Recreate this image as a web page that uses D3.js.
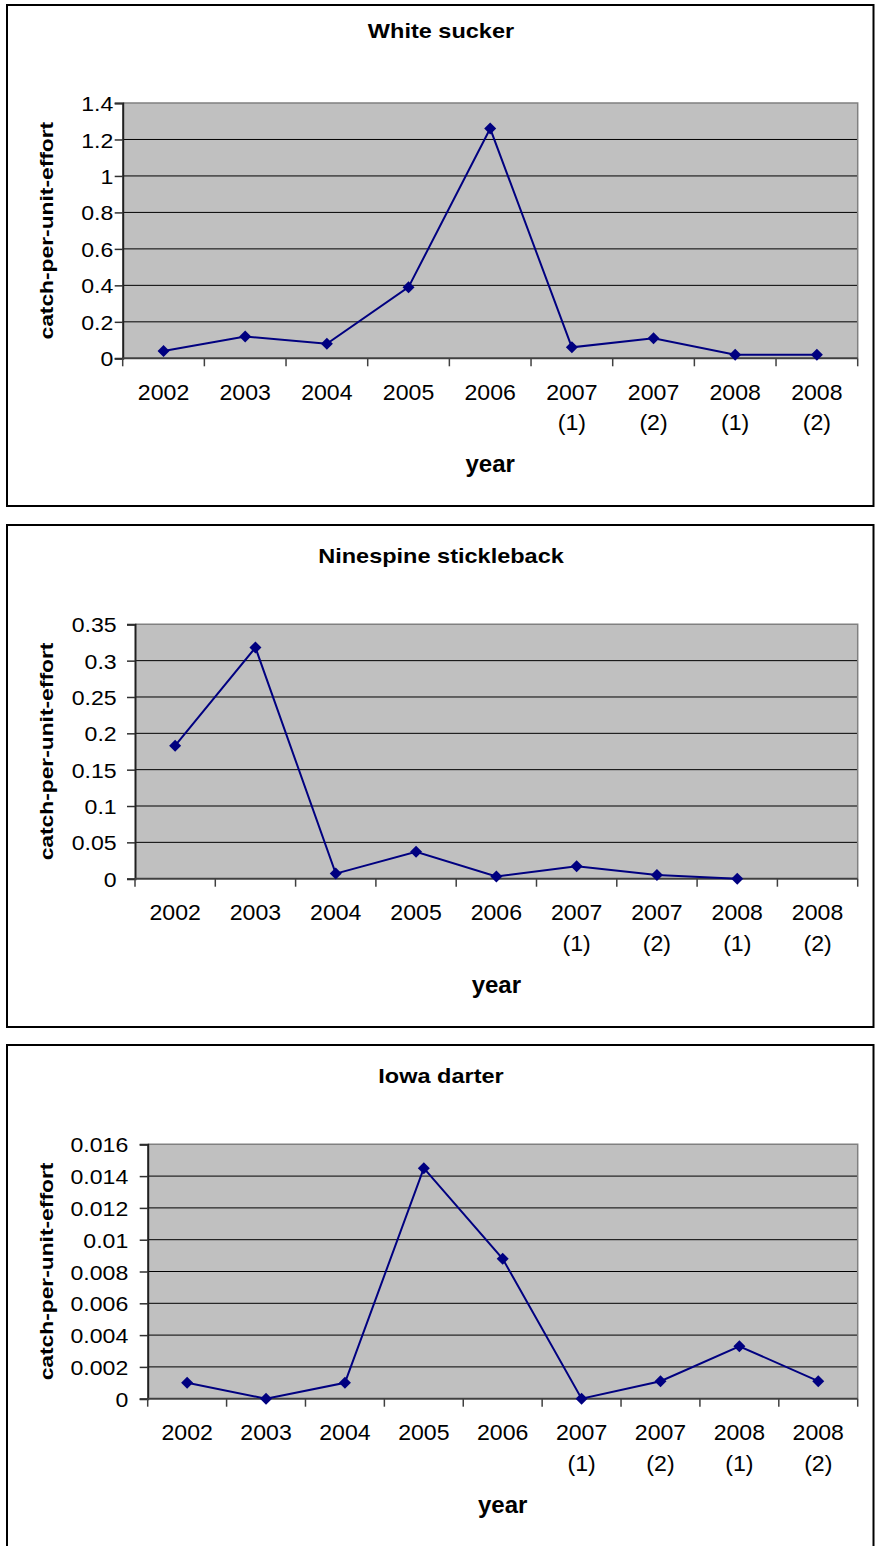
<!DOCTYPE html>
<html>
<head>
<meta charset="utf-8">
<script src="https://cdn.jsdelivr.net/npm/d3@7"></script>
<style>
  body { margin: 0; background: #fff; }
  svg { display: block; }
  text { font-family: "Liberation Sans", Arial, sans-serif; fill: #000; }
</style>
</head>
<body>
<svg id="chart" width="876" height="1546"></svg>
<script>
// Sampling occasions shared by all three species
const categories = ["2002", "2003", "2004", "2005", "2006", "2007 (1)", "2007 (2)", "2008 (1)", "2008 (2)"];

// Catch-per-unit-effort for each species (null = not sampled)
const whiteSucker = [0.04, 0.12, 0.08, 0.39, 1.26, 0.06, 0.11, 0.02, 0.02];
const ninespineStickleback = [0.183, 0.318, 0.007, 0.037, 0.003, 0.017, 0.005, 0, null];
const iowaDarter = [0.001, 0, 0.001, 0.0145, 0.0088, 0, 0.0011, 0.0033, 0.0011];

// Y-axis ticks and their printed labels
const whiteSuckerTicks = [0, 0.2, 0.4, 0.6, 0.8, 1, 1.2, 1.4];
const whiteSuckerTickLabels = ["0", "0.2", "0.4", "0.6", "0.8", "1", "1.2", "1.4"];
const ninespineTicks = [0, 0.05, 0.1, 0.15, 0.2, 0.25, 0.3, 0.35];
const ninespineTickLabels = ["0", "0.05", "0.1", "0.15", "0.2", "0.25", "0.3", "0.35"];
const iowaDarterTicks = [0, 0.002, 0.004, 0.006, 0.008, 0.01, 0.012, 0.014, 0.016];
const iowaDarterTickLabels = ["0", "0.002", "0.004", "0.006", "0.008", "0.01", "0.012", "0.014", "0.016"];

const titles = ["White sucker", "Ninespine stickleback", "Iowa darter"];
const xTitle = "year";
const yTitle = "catch-per-unit-effort";

// Frame and plot-area geometry of each stacked panel
const panels = [
  { box: [7, 5, 873.5, 506], plot: { left: 122.7, top: 103, right: 857.7, bottom: 358.3 },
    titleY: 38, tickLabelX: 113.3, values: whiteSucker, ticks: whiteSuckerTicks, labels: whiteSuckerTickLabels },
  { box: [7, 525, 873.5, 1027], plot: { left: 135, top: 624.3, right: 857.7, bottom: 878.7 },
    titleY: 563, tickLabelX: 116.7, values: ninespineStickleback, ticks: ninespineTicks, labels: ninespineTickLabels },
  { box: [7, 1045, 873.5, 1549], plot: { left: 147.7, top: 1144.3, right: 857.7, bottom: 1398.7 },
    titleY: 1083, tickLabelX: 128.3, values: iowaDarter, ticks: iowaDarterTicks, labels: iowaDarterTickLabels }
];

const svg = d3.select("#chart");
const navy = "#000080";

panels.forEach((p, idx) => {
  const g = svg.append("g");
  const { left, top, right, bottom } = p.plot;

  // outer frame
  g.append("rect")
    .attr("x", p.box[0]).attr("y", p.box[1])
    .attr("width", p.box[2] - p.box[0]).attr("height", p.box[3] - p.box[1])
    .attr("fill", "#fff").attr("stroke", "#000").attr("stroke-width", 2);

  const x = d3.scaleBand().domain(categories).range([left, right]).paddingInner(0).paddingOuter(0);
  const yMax = p.ticks[p.ticks.length - 1];
  const y = d3.scaleLinear().domain([0, yMax]).range([bottom, top]);

  // grey plot area
  g.append("rect")
    .attr("x", left).attr("y", y(yMax))
    .attr("width", right - left).attr("height", y(0) - y(yMax))
    .attr("fill", "#C0C0C0");

  // horizontal gridlines
  g.selectAll("line.grid").data(p.ticks.slice(1, -1)).join("line")
    .attr("class", "grid")
    .attr("x1", left).attr("x2", right)
    .attr("y1", d => y(d)).attr("y2", d => y(d))
    .attr("stroke", "#000").attr("stroke-width", 1);

  // top and right edge of the plot area
  g.append("path")
    .attr("d", `M${left},${y(yMax)}H${right}V${y(0)}`)
    .attr("fill", "none").attr("stroke", "#808080").attr("stroke-width", 1.5);

  // y axis
  const yAxis = d3.axisLeft(y).tickValues(p.ticks).tickSize(8).tickFormat((d, i) => p.labels[i]);
  const ya = g.append("g").attr("transform", `translate(${left},0)`).call(yAxis);
  ya.select(".domain").attr("stroke", "#202020").attr("stroke-width", 2);
  ya.selectAll(".tick line").attr("stroke", "#303030").attr("stroke-width", 1.5);
  ya.selectAll(".tick text")
    .attr("x", 0).attr("dy", "0.36em")
    .attr("font-size", 21)
    .attr("font-family", "'Liberation Sans', Arial, sans-serif")
    .attr("fill", "#000")
    .attr("text-anchor", "end")
    .attr("transform", `translate(${p.tickLabelX - left},0) scale(1.1,1)`);

  // x axis line and category boundary ticks
  g.append("line")
    .attr("x1", left).attr("x2", right).attr("y1", y(0)).attr("y2", y(0))
    .attr("stroke", "#404040").attr("stroke-width", 2);
  const bounds = categories.map(c => x(c)).concat([right]);
  g.selectAll("line.xtick").data(bounds).join("line")
    .attr("class", "xtick")
    .attr("x1", d => d).attr("x2", d => d)
    .attr("y1", y(0)).attr("y2", y(0) + 8)
    .attr("stroke", "#404040").attr("stroke-width", 1.5);

  // category labels, split onto two lines
  const xl = g.selectAll("text.xlab").data(categories).join("text")
    .attr("class", "xlab")
    .attr("font-size", 22)
    .attr("text-anchor", "middle")
    .attr("transform", d => `translate(${x(d) + x.bandwidth() / 2},${y(0) + 41.5}) scale(1.05,1)`);
  xl.each(function (d) {
    const parts = d.split(" ");
    const t = d3.select(this);
    parts.forEach((s, i) => {
      t.append("tspan").attr("x", 0).attr("y", i * 30.5).text(s);
    });
  });

  // axis titles
  g.append("text")
    .attr("font-size", 24).attr("font-weight", "bold").attr("text-anchor", "middle")
    .attr("x", (left + right) / 2).attr("y", y(0) + 114)
    .text(xTitle);
  g.append("text")
    .attr("font-size", 19).attr("font-weight", "bold").attr("text-anchor", "middle")
    .attr("transform", `translate(53,${(top + bottom) / 2}) rotate(-90) scale(1.2,1)`)
    .text(yTitle);

  // chart title
  g.append("text")
    .attr("font-size", 21).attr("font-weight", "bold").attr("text-anchor", "middle")
    .attr("transform", `translate(441,${p.titleY}) scale(1.12,1)`)
    .text(titles[idx]);

  // data line and diamond markers
  const pts = categories.map((c, i) => ({ c, v: p.values[i] }));
  const line = d3.line()
    .defined(d => d.v !== null)
    .x(d => x(d.c) + x.bandwidth() / 2)
    .y(d => y(d.v));
  g.append("path").datum(pts)
    .attr("d", line)
    .attr("fill", "none").attr("stroke", navy).attr("stroke-width", 2);
  g.selectAll("path.marker").data(pts.filter(d => d.v !== null)).join("path")
    .attr("class", "marker")
    .attr("d", d3.symbol(d3.symbolSquare, 72))
    .attr("transform", d => `translate(${x(d.c) + x.bandwidth() / 2},${y(d.v)}) rotate(45)`)
    .attr("fill", navy);
});
</script>
</body>
</html>
